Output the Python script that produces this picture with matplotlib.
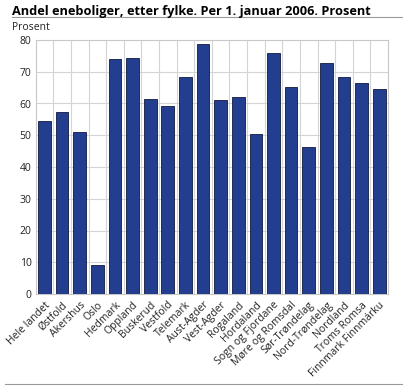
import matplotlib.pyplot as plt
import numpy as np

fylker = ['Hele landet', 'Østfold', 'Akershus', 'Oslo', 'Hedmark', 'Oppland',
          'Buskerud', 'Vestfold', 'Telemark', 'Aust-Agder', 'Vest-Agder',
          'Rogaland', 'Hordaland', 'Sogn og Fjordane', 'Møre og Romsdal',
          'Sør-Trøndelag', 'Nord-Trøndelag', 'Nordland', 'Troms Romsa',
          'Finnmark Finnmárku']
andel = [54.4, 57.2, 51.1, 9.0, 74.0, 74.3, 61.3, 59.1, 68.3, 78.6,
         61.0, 62.2, 50.3, 75.8, 65.1, 46.2, 72.8, 68.5, 66.6, 64.7]

plt.rcParams['font.family'] = ['Open Sans', 'DejaVu Sans']

fig = plt.figure(figsize=(4.03, 3.9), dpi=100)
ax = fig.add_axes([35.7 / 403, 1 - 294 / 390, (388 - 35.7) / 403, 254 / 390])

x = np.arange(len(fylker))
ax.bar(x, andel, width=0.72, color='#233e8f', edgecolor='#111a40', linewidth=0.6, zorder=3)

ax.set_xlim(-0.5, len(fylker) - 0.5)
ax.set_ylim(0, 80)
ax.set_yticks(range(0, 81, 10))
ax.set_xticks(x)
ax.set_xticklabels(fylker, rotation=45, ha='right', rotation_mode='anchor', fontsize=7.5)
ax.tick_params(axis='both', length=0, labelsize=7.5, colors='#222222')
ax.tick_params(axis='x', pad=4)
ax.tick_params(axis='y', pad=3)

for v in np.arange(0.5, len(fylker) - 1, 1):
    ax.axvline(v, color='#d4d4d4', linewidth=0.8, zorder=1)
for h in range(10, 80, 10):
    ax.axhline(h, color='#d4d4d4', linewidth=0.8, zorder=1)
for s in ax.spines.values():
    s.set_color('#c8c8c8')
    s.set_linewidth(0.8)

fig.text(12 / 403, 1 - 11 / 390, 'Andel eneboliger, etter fylke. Per 1. januar 2006. Prosent',
         fontsize=9.2, fontweight='bold', va='center', ha='left')
fig.add_artist(plt.Line2D([12 / 403, 1], [1 - 17 / 390] * 2, color='#999999', linewidth=0.8))
fig.text(12 / 403, 1 - 27 / 390, 'Prosent', fontsize=7.5, va='center', ha='left', color='#222222')
fig.add_artist(plt.Line2D([5 / 403, 1], [1 - 384 / 390] * 2, color='#999999', linewidth=0.8))

fig.savefig('out.png', dpi=100)
